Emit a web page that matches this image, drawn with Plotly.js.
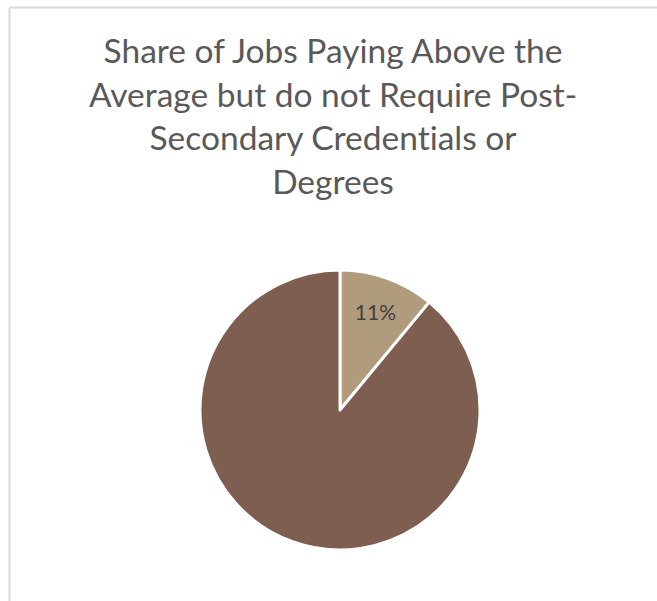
<!DOCTYPE html>
<html>
<head>
<meta charset="utf-8">
<script src="https://cdn.plot.ly/plotly-3.0.1.min.js"></script>
<style>
  html, body { margin: 0; padding: 0; background: #ffffff; }
  #chart { width: 657px; height: 601px; }
  #chart text { font-variant-ligatures: none; font-feature-settings: "liga" 0, "clig" 0; }
</style>
</head>
<body>
<div id="chart"></div>
<script>
const titleText = "Share of Jobs Paying Above the<br>Average but do not Require Post-<br>Secondary Credentials or<br>Degrees";
const sliceLabels = ["Above average pay, no post-secondary credential", "Other jobs"];
const sliceValues = [11, 89];
const sliceColors = ["#B09B7C", "#7D5E50"];
const sliceTextTemplates = ["%{percent:.0%}", ""];

const W = 657, H = 601;
const cx = 340, cy = 410, r = 140;

const data = [{
  type: "pie",
  labels: sliceLabels,
  values: sliceValues,
  sort: false,
  direction: "clockwise",
  rotation: 0,
  marker: { colors: sliceColors, line: { color: "#ffffff", width: 3 } },
  texttemplate: sliceTextTemplates,
  textposition: "inside",
  insidetextorientation: "horizontal",
  insidetextfont: { family: "Lato, 'Open Sans', sans-serif", size: 21, color: "#404040" },
  hoverinfo: "label+percent",
  showlegend: false,
  domain: {
    x: [(cx - r) / W, (cx + r) / W],
    y: [(H - cy - r) / H, (H - cy + r) / H]
  }
}];

const layout = {
  width: W,
  height: H,
  margin: { l: 0, r: 0, t: 0, b: 0 },
  paper_bgcolor: "#ffffff",
  showlegend: false,
  uniformtext: { minsize: 21, mode: "show" },
  title: {
    text: titleText,
    font: { family: "Lato, 'Open Sans', sans-serif", size: 33.5, color: "#595959" },
    x: 333 / W,
    xanchor: "center",
    xref: "paper",
    y: 1 - 63 / H,
    yanchor: "top",
    yref: "paper"
  },
  shapes: [
    { type: "line", xref: "paper", yref: "paper", x0: 9.5 / W, x1: 1, y0: 1 - 7.5 / H, y1: 1 - 7.5 / H,
      line: { color: "#D9D9D9", width: 2 } },
    { type: "line", xref: "paper", yref: "paper", x0: 9.5 / W, x1: 9.5 / W, y0: 0, y1: 1 - 7.5 / H,
      line: { color: "#D9D9D9", width: 2 } }
  ]
};

Plotly.newPlot("chart", data, layout, { displayModeBar: false, staticPlot: true });
</script>
</body>
</html>
